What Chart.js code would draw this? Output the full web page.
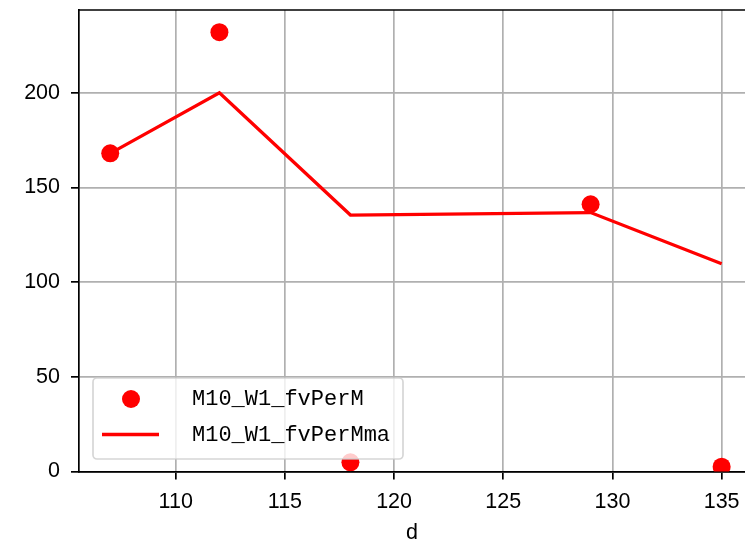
<!DOCTYPE html>
<html>
<head>
<meta charset="utf-8">
<script src="https://cdn.jsdelivr.net/npm/chart.js@4"></script>
<style>
    html, body { margin: 0; padding: 0; background: #fff; }
    #wrap { position: relative; width: 745px; height: 545px; }
</style>
</head>
<body>
<div id="wrap"><canvas id="myChart" width="745" height="545"></canvas></div>
<script>
// Chart data
var days       = [107, 112, 118, 129, 135];
var fvPerM     = [168, 232, 4.8, 141.1, 2.5];
var fvPerMma   = [168, 200, 135.4, 136.7, 109.7];
var seriesNames = ['M10_W1_fvPerM', 'M10_W1_fvPerMma'];
var xTitle     = 'd';

(function () {
    'use strict';

    var RED = '#ff0000';
    var tickFont = { family: '"Liberation Sans", Arial, sans-serif', size: 21.5 };

    function toXY(xs, ys) {
        var out = [];
        for (var i = 0; i < xs.length; i++) out.push({ x: xs[i], y: ys[i] });
        return out;
    }

    // Top spine + legend drawn over the datasets (matplotlib style)
    var spinesAndLegend = {
        id: 'spinesAndLegend',
        afterDatasetsDraw: function (chart) {
            var ctx = chart.ctx;
            var a = chart.chartArea;
            ctx.save();

            // top spine
            ctx.strokeStyle = '#000';
            ctx.lineWidth = 1.7;
            ctx.beginPath();
            ctx.moveTo(a.left, a.top);
            ctx.lineTo(a.right, a.top);
            ctx.stroke();

            // legend box
            var bx = a.left + 14, by = a.top + 368, bw = 310, bh = 81;
            ctx.fillStyle = 'rgba(255,255,255,0.8)';
            ctx.strokeStyle = 'rgba(204,204,204,0.8)';
            ctx.lineWidth = 1.7;
            ctx.beginPath();
            ctx.roundRect(bx, by, bw, bh, 4);
            ctx.fill();
            ctx.stroke();

            // handles
            ctx.fillStyle = RED;
            ctx.beginPath();
            ctx.arc(bx + 38, by + 21, 9, 0, Math.PI * 2);
            ctx.fill();

            ctx.strokeStyle = RED;
            ctx.lineWidth = 3.3;
            ctx.beginPath();
            ctx.moveTo(bx + 9, by + 56.5);
            ctx.lineTo(bx + 66, by + 56.5);
            ctx.stroke();

            // labels
            ctx.fillStyle = '#000';
            ctx.font = '22px "Liberation Mono", "DejaVu Sans Mono", monospace';
            ctx.textBaseline = 'middle';
            ctx.textAlign = 'left';
            var ds = chart.data.datasets;
            ctx.fillText(ds[0].label, bx + 99, by + 21);
            ctx.fillText(ds[1].label, bx + 99, by + 57);

            ctx.restore();
        }
    };

    var config = {
        type: 'scatter',
        data: {
            datasets: [{
                label: seriesNames[0],
                data: toXY(days, fvPerM),
                showLine: false,
                pointRadius: 9,
                pointHoverRadius: 9,
                pointBorderWidth: 0,
                backgroundColor: RED,
                borderColor: RED
            }, {
                label: seriesNames[1],
                data: toXY(days, fvPerMma),
                showLine: true,
                pointRadius: 0,
                borderWidth: 3.3,
                borderColor: RED,
                backgroundColor: RED,
                tension: 0
            }]
        },
        options: {
            responsive: false,
            animation: false,
            events: [],
            layout: { autoPadding: false, padding: { top: 10, right: 0, left: 0, bottom: 0 } },
            plugins: {
                legend: { display: false },
                tooltip: { enabled: false }
            },
            scales: {
                x: {
                    type: 'linear',
                    min: 105.57,
                    max: 136.07,
                    grid: { color: '#b0b0b0', lineWidth: 1.7, tickLength: 8, tickColor: '#000', tickWidth: 1.7 },
                    border: { color: '#000', width: 1.7 },
                    ticks: { stepSize: 5, includeBounds: false, color: '#000', font: tickFont, padding: 10, maxRotation: 0 },
                    title: { display: true, text: xTitle, color: '#000', font: tickFont, padding: { top: 0, bottom: -1 } },
                    afterFit: function (s) {
                        s.height = 73.6;
                        s.paddingLeft = 0;
                        s.paddingRight = 0;
                    }
                },
                y: {
                    type: 'linear',
                    min: 0,
                    max: 243.7,
                    grid: { color: '#b0b0b0', lineWidth: 1.7, tickLength: 8, tickColor: '#000', tickWidth: 1.7 },
                    border: { color: '#000', width: 1.7 },
                    ticks: { stepSize: 50, includeBounds: false, color: '#000', font: tickFont, padding: 11 },
                    afterFit: function (s) {
                        s.width = 79;
                        s.paddingTop = 0;
                        s.paddingBottom = 0;
                    }
                }
            }
        },
        plugins: [spinesAndLegend]
    };

    new Chart(document.getElementById('myChart'), config);
}());
</script>
</body>
</html>
